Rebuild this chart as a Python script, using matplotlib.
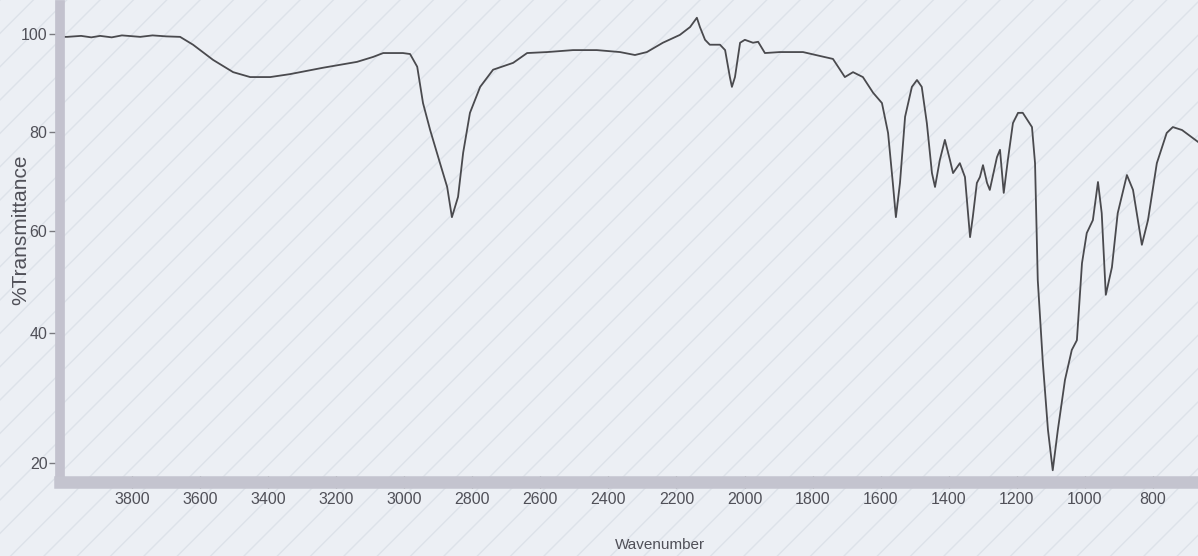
import numpy as np
import matplotlib.pyplot as plt
import matplotlib.ticker as mticker
from matplotlib.patches import Rectangle

# ------------------------------------------------------------------
# Spectrum (wavenumber in cm-1, %T)
# ------------------------------------------------------------------
wavenumber = [4006, 3991, 3950, 3920, 3894, 3860, 3830, 3776, 3740, 3700, 3659,
              3621, 3562, 3503, 3453, 3394, 3336, 3239, 3139, 3092, 3062, 3004,
              2983, 2962, 2945, 2924, 2895, 2874, 2860, 2842, 2827, 2807, 2777,
              2739, 2680, 2639, 2580, 2504, 2434, 2366, 2322, 2287, 2240, 2190,
              2160, 2140, 2131, 2116, 2102, 2072, 2057, 2043, 2037, 2028, 2013,
              1999, 1975, 1960, 1940, 1896, 1828, 1778, 1740, 1705, 1681, 1652,
              1622, 1596, 1578, 1564, 1555, 1543, 1528, 1508, 1493, 1479, 1464,
              1449, 1440, 1426, 1411, 1396, 1387, 1367, 1352, 1337, 1329, 1317,
              1308, 1299, 1287, 1279, 1258, 1249, 1238, 1226, 1211, 1196, 1182,
              1155, 1146, 1138, 1123, 1108, 1094, 1079, 1058, 1038, 1023, 1008,
              994, 976, 961, 950, 938, 920, 903, 876, 858, 832, 814, 788, 759,
              741, 714, 667]
transmittance = [99.4, 99.4, 99.6, 99.3, 99.6, 99.3, 99.7, 99.4, 99.7, 99.5, 99.4,
                 97.8, 94.7, 92.2, 91.2, 91.2, 91.8, 93.1, 94.3, 95.3, 96.1, 96.1,
                 95.9, 93.3, 85.9, 80.4, 73.7, 68.9, 62.8, 66.9, 75.8, 83.9, 89.2,
                 92.7, 94.1, 96.1, 96.3, 96.7, 96.7, 96.3, 95.7, 96.3, 98.2, 99.8,
                 101.4, 103.3, 101.4, 98.8, 97.8, 97.8, 96.7, 91.2, 89.2, 91.2, 98.2,
                 98.8, 98.2, 98.4, 96.1, 96.3, 96.3, 95.5, 94.9, 91.2, 92.2, 91.2,
                 88.0, 85.9, 79.8, 69.7, 62.8, 69.7, 83.1, 89.2, 90.6, 89.2, 81.8,
                 71.7, 68.9, 74.3, 78.4, 74.3, 71.7, 73.7, 70.9, 58.8, 62.8, 69.7,
                 70.9, 73.3, 69.7, 68.3, 74.9, 76.4, 67.7, 74.3, 81.8, 83.9, 83.9,
                 81.0, 73.7, 50.4, 35.4, 25.1, 18.9, 25.1, 32.8, 37.4, 38.9, 53.7,
                 59.6, 62.2, 69.9, 63.6, 47.5, 52.9, 63.6, 71.3, 68.3, 57.3, 62.2,
                 73.7, 79.8, 81.0, 80.4, 78.0]

x_ticks = [3800, 3600, 3400, 3200, 3000, 2800, 2600, 2400, 2200, 2000,
           1800, 1600, 1400, 1200, 1000, 800]
y_ticks = [20, 40, 60, 80, 100]

# the scanned y axis is not evenly spaced: pixel height of each value
y_anchor_vals = [0, 20, 40, 60, 80, 100, 120]
y_anchor_px = [593, 463, 333, 231, 132, 34, -64]


def y_forward(v):
    return -np.interp(v, y_anchor_vals, y_anchor_px)


def y_inverse(s):
    return np.interp(-np.asarray(s), y_anchor_px[::-1], y_anchor_vals[::-1])


text_color = '#505058'
plt.rcParams['font.family'] = ['Liberation Sans', 'DejaVu Sans']

fig = plt.figure(figsize=(11.98, 5.56), dpi=100, facecolor='#eceff4')

# faint diagonal watermark of the scanned paper
fig.add_artist(Rectangle((0, 0), 1, 1, transform=fig.transFigure, facecolor='none',
                         edgecolor='#dde2e9', hatch='/', linewidth=0, zorder=0))

ax = fig.add_axes([60 / 1198, 1 - 482 / 556, 1138 / 1198, 477 / 556])
ax.set_facecolor('none')

ax.plot(wavenumber, transmittance, color='#4a4a4e', linewidth=1.3)

ax.set_yscale('function', functions=(y_forward, y_inverse))
ax.set_xlim(4012, 667)
ax.set_ylim(17.1, 105.9)

ax.set_xticks(x_ticks)
ax.xaxis.set_minor_locator(mticker.MultipleLocator(50))
ax.set_yticks(y_ticks)
ax.yaxis.set_minor_locator(mticker.NullLocator())

for side in ['top', 'right']:
    ax.spines[side].set_visible(False)
ax.spines['left'].set_color('#c3c2ce')
ax.spines['left'].set_linewidth(7)
ax.spines['bottom'].set_color('#c4c4cf')
ax.spines['bottom'].set_linewidth(9)

ax.tick_params(axis='y', direction='out', length=8, width=1, color='#7a7a80',
               labelsize=11.5, labelcolor=text_color, pad=1)
ax.tick_params(axis='x', which='major', direction='inout', length=8, width=0.9,
               color='#6a6a70', labelsize=11.5, labelcolor=text_color, pad=3)
ax.tick_params(axis='x', which='minor', direction='inout', length=4, width=0.8,
               color='#7a7a80')

ax.set_xlabel('Wavenumber', fontsize=11, color=text_color)
ax.xaxis.set_label_coords(0.527, -0.117)
ax.set_ylabel('%Transmittance', fontsize=15, color=text_color)
ax.yaxis.set_label_coords(-0.026, 0.528)

fig.savefig('out.png', dpi=100, facecolor=fig.get_facecolor())
